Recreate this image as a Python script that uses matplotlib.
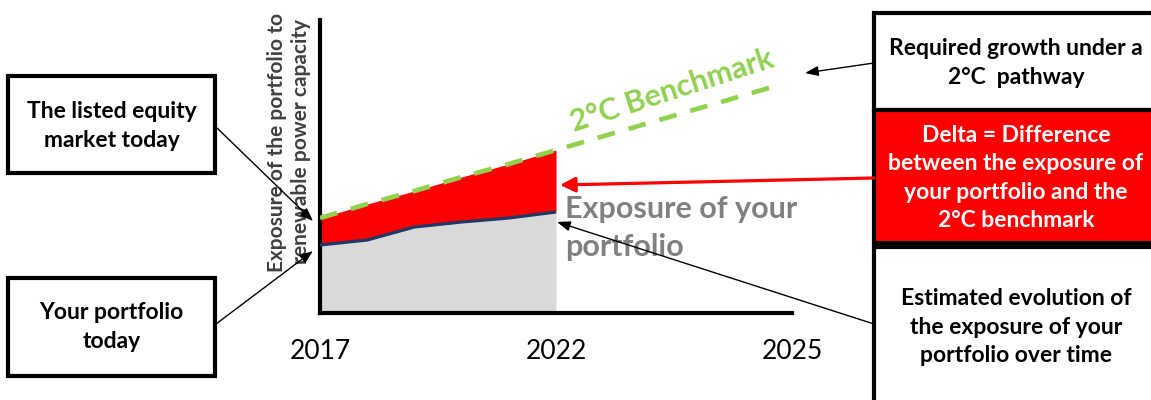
import matplotlib.pyplot as plt
from matplotlib.patches import Rectangle, FancyArrowPatch

plt.rcParams['font.family'] = ['Lato', 'DejaVu Sans']

# years shown on the x axis (position = years after 2017, 2025 sits at the axis end)
tick_pos = [0, 5, 10]
tick_labels = ['2017', '2022', '2025']

# portfolio exposure, 2017-2022 (index)
port_x = [0, 1, 2, 3, 4, 5]
port_y = [68, 73, 86, 91, 95, 101]

# 2 degree benchmark, same years, then the extension towards 2025
bench_y = [95, 109, 122, 136, 149, 163]
bench_ext_x = [5, 9.8]
bench_ext_y = [163, 229]

W, H = 1151, 400
fig = plt.figure(figsize=(W / 100, H / 100), dpi=100)

# main chart, placed in pixel units of the reference
ax_l, ax_r, ax_t, ax_b = 320, 792, 20, 313
ax = fig.add_axes([ax_l / W, 1 - ax_b / H, (ax_r - ax_l) / W, (ax_b - ax_t) / H])
ax.set_xlim(0, 10)
ax.set_ylim(0, 293)

ax.fill_between(port_x, 0, port_y, color='#d9d9d9', lw=0, zorder=1)
ax.fill_between(port_x, port_y, bench_y, color='#ff0000', lw=0, zorder=1)
ax.plot(port_x, port_y, color='#203864', lw=2.3, zorder=3, solid_capstyle='butt')
ax.plot(port_x + bench_ext_x[1:], bench_y + bench_ext_y[1:], color='#92d050', lw=3.4,
        dashes=(3.8, 3.0), zorder=4, dash_capstyle='butt')

for s in ['top', 'right']:
    ax.spines[s].set_visible(False)
for s in ['left', 'bottom']:
    ax.spines[s].set_linewidth(3)
    ax.spines[s].set_color('black')
ax.set_yticks([])
ax.set_xticks(tick_pos)
ax.set_xticklabels(tick_labels, fontsize=19)
ax.tick_params(axis='x', length=0, pad=19)

ax.text(0.746, 0.76, '2\u00b0C Benchmark', transform=ax.transAxes, rotation=18,
        ha='center', va='center', color='#92d050', fontsize=22, fontweight='bold')
ax.text(0.52, 0.29, 'Exposure of your\nportfolio', transform=ax.transAxes,
        ha='left', va='center', color='#808080', fontsize=22, fontweight='bold',
        linespacing=1.42)

# overlay in pixel coordinates for boxes, arrows and labels
ov = fig.add_axes([0, 0, 1, 1])
ov.set_xlim(0, W)
ov.set_ylim(H, 0)
ov.axis('off')
ov.patch.set_alpha(0)

ov.text(289, 142, 'Exposure of the portfolio to\nrenewable power capacity', rotation=90,
        ha='center', va='center', multialignment='center', fontsize=15,
        fontweight='bold', color='#404040', linespacing=1.2)


def box(x0, y0, x1, y1, text, face='white', tcolor='black', tx=None, ty=None):
    ov.add_patch(Rectangle((x0, y0), x1 - x0, y1 - y0, facecolor=face, edgecolor='black',
                           lw=3, zorder=2, clip_on=False))
    cx = tx if tx is not None else (x0 + x1) / 2
    cy = ty if ty is not None else (y0 + y1) / 2
    ov.text(cx, cy, text, ha='center', va='center', fontsize=16.5,
            fontweight='bold', color=tcolor, linespacing=1.45, zorder=3)


box(8, 76, 215, 173, 'The listed equity\nmarket today', ty=126)
box(8, 278, 215, 376, 'Your portfolio\ntoday', ty=327)
box(874, 13, 1170, 110, 'Required growth under a\n2\u00b0C  pathway', tx=1016, ty=63)
box(874, 110, 1170, 243, 'Delta = Difference\nbetween the exposure of\nyour portfolio and the\n2\u00b0C benchmark',
    face='#ff0000', tcolor='white', tx=1016, ty=178)
box(874, 247, 1170, 415, 'Estimated evolution of\nthe exposure of your\nportfolio over time', tx=1016, ty=327)


def arrow(p0, p1, color='black', lw=1.0, hl=8, hw=3):
    ov.add_patch(FancyArrowPatch(p0, p1, arrowstyle=f'-|>,head_length={hl},head_width={hw}',
                                 mutation_scale=1, color=color, lw=lw, shrinkA=0, shrinkB=0,
                                 zorder=5))


arrow((216, 127), (313, 221))
arrow((216, 324), (313, 251))
arrow((874, 63), (805, 73))
arrow((874, 178), (560, 185), color='#ff0000', lw=2.3, hl=9, hw=4.5)
arrow((874, 324), (557, 222))

fig.savefig('out.png', dpi=100)
